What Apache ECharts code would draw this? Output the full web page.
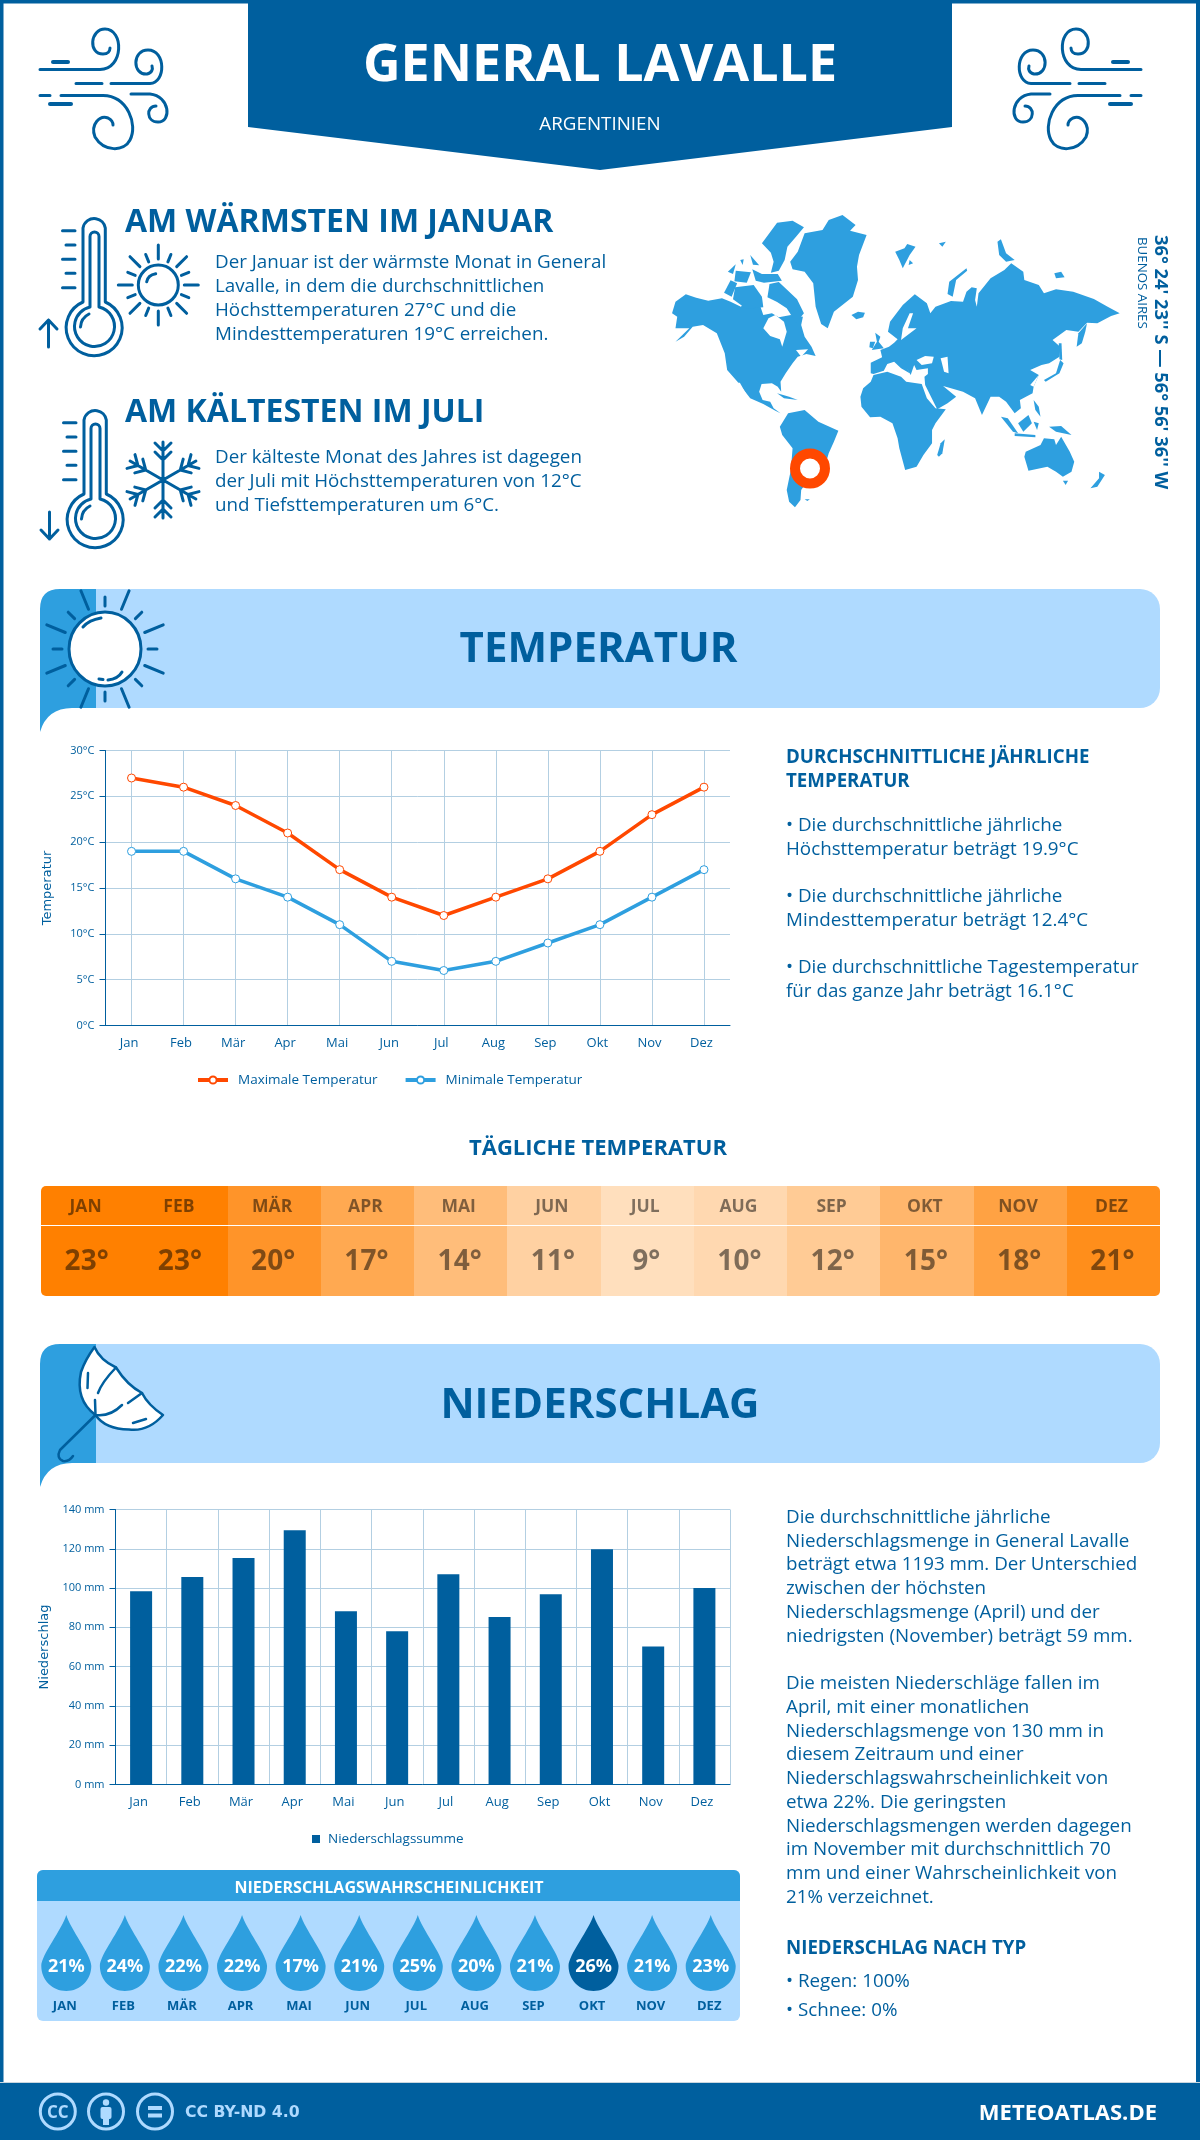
<!DOCTYPE html>
<html><head><meta charset="utf-8">
<style>html,body{margin:0;padding:0;background:#fff}#c{width:1200px;height:2140px}</style>
<script src="https://cdn.jsdelivr.net/npm/echarts@6/dist/echarts.min.js"></script>
</head><body><div id="c"></div>
<script>
const months = ['Jan','Feb','Mär','Apr','Mai','Jun','Jul','Aug','Sep','Okt','Nov','Dez'];
const monthsUpper = ['JAN','FEB','MÄR','APR','MAI','JUN','JUL','AUG','SEP','OKT','NOV','DEZ'];
const maxTemps = [27,26,24,21,17,14,12,14,16,19,23,26];
const minTemps = [19,19,16,14,11,7,6,7,9,11,14,17];
const dailyTemps = [23,23,20,17,14,11,9,10,12,15,18,21];
const precipitation = [98.4,105.6,115.3,129.5,88.2,78,107,85.3,96.8,119.8,70.3,100];
const precipProbability = [21,24,22,22,17,21,25,20,21,26,21,23];

const warmLines = ['Der Januar ist der wärmste Monat in General','Lavalle, in dem die durchschnittlichen','Höchsttemperaturen 27°C und die','Mindesttemperaturen 19°C erreichen.'];
const coldLines = ['Der kälteste Monat des Jahres ist dagegen','der Juli mit Höchsttemperaturen von 12°C','und Tiefsttemperaturen um 6°C.'];
const tempSummary = [['• Die durchschnittliche jährliche',831],['Höchsttemperatur beträgt 19.9°C',855],['• Die durchschnittliche jährliche',902],['Mindesttemperatur beträgt 12.4°C',926],['• Die durchschnittliche Tagestemperatur',973],['für das ganze Jahr beträgt 16.1°C',997]];
const rainSummary = [['Die durchschnittliche jährliche',1523],['Niederschlagsmenge in General Lavalle',1546.5],['beträgt etwa 1193 mm. Der Unterschied',1570],['zwischen der höchsten',1594],['Niederschlagsmenge (April) und der',1618],['niedrigsten (November) beträgt 59 mm.',1641.5],
['Die meisten Niederschläge fallen im',1689],['April, mit einer monatlichen',1713],['Niederschlagsmenge von 130 mm in',1736.5],['diesem Zeitraum und einer',1760],['Niederschlagswahrscheinlichkeit von',1784],['etwa 22%. Die geringsten',1808],['Niederschlagsmengen werden dagegen',1831.5],['im November mit durchschnittlich 70',1855],['mm und einer Wahrscheinlichkeit von',1879],['21% verzeichnet.',1903]];

const BLUE='#005f9e', MID='#2e9fdf', LIGHT='#afdaff', RED='#ff4800', GRID='#b3cfe2', FONT='"Open Sans"';

/* helpers for the decoration */
let pid=0;
function P(d,style,extra){const n='sp'+(pid++);echarts.graphic.registerShape(n,echarts.graphic.extendPath(d,{}));return Object.assign({type:n,style:style,silent:true},extra||{});}
const strokeS=(w,c)=>({stroke:c||BLUE,lineWidth:w||3,fill:'none',lineCap:'round',lineJoin:'round'});
function T(text,x,base,size,weight,fill,align,family){return {type:'text',silent:true,style:{text:text,x:x,y:base-size*0.30+0.5,font:(weight||400)+' '+size+'px '+(family||FONT),fill:fill||BLUE,textAlign:align||'left',verticalAlign:'middle'}};}
function rect(x,y,w,h,fill,r){return {type:'rect',silent:true,shape:{x:x,y:y,width:w,height:h,r:r||0},style:{fill:fill}};}

function wind(){const s=strokeS(3);return [
 P('M40 69.5 L100 69.5 C124 69 124 29 105 29 C90 29 88 54 103 54 C108 54 110 51 110 48',s),
 P('M53 62 L68 62',strokeS(4)),
 P('M76 83.5 L102 83.5 M111 83.5 L150 83.5 C166 83 166 50 148 50 C132 50 132 75 147 74 C152 73 153 69 152 66',s),
 P('M40 95.5 L50 95.5 M61 95.5 L103 95.5 C128 96 138 125 130 140 C124 152 104 152 95 137 C90 124 100 115 108 118 C112 120 113 123 113 125',s),
 P('M50 104 L71 104',strokeS(4)),
 P('M131 94 L150 94 C170 96 172 122 158 122 C146 122 146 106 156 106',s)];}

function thermo(dx,dy,down){const o=[
 P('M83 302 L83 228 A11.3 11.3 0 0 1 105.3 228 L105.3 302 A28 28 0 1 1 83 302 Z',strokeS(3)),
 P('M90 307 L90 236.5 A4.5 4.5 0 0 1 99 236.5 L99 307 A20 20 0 1 1 90 307 Z',strokeS(3)),
 P('M80.5 327 Q81 318 89 314',strokeS(3)),
 P('M62.5 230.7 L75 230.7 M66 245 L75 245 M62.5 259.3 L75 259.3 M66 273.3 L75 273.3 M62.5 287.7 L75 287.7',strokeS(3))];
 o.push(P(down?'M48.5 320 L48.5 347 M40 338 L48.5 347 L57 338':'M48.5 347 L48.5 320 M40 329 L48.5 320 L57 329',strokeS(3)));
 return {type:'group',x:dx,y:dy,children:o};}

function sunSmall(){let d='';const cx=158.3,cy=285;
 for(let i=0;i<16;i++){const a=i*Math.PI/8;const long=i%2===0;const r0=long?26:25,r1=long?40:33;
  d+='M'+(cx+r0*Math.cos(a)).toFixed(1)+' '+(cy+r0*Math.sin(a)).toFixed(1)+' L'+(cx+r1*Math.cos(a)).toFixed(1)+' '+(cy+r1*Math.sin(a)).toFixed(1)+' ';}
 return [{type:'circle',silent:true,shape:{cx:cx,cy:cy,r:20},style:strokeS(3)},P(d,strokeS(3)),P('M146.7 281.7 Q148 275 155.7 273.7',strokeS(3))];}

function snow(){const cx=163,cy=480;let d='';
 for(let i=0;i<6;i++){const a=Math.PI/2+i*Math.PI/3;const c=Math.cos(a),s=Math.sin(a);
  const pt=(r,o)=>(cx+r*c-o*s).toFixed(1)+' '+(cy+r*s+o*c).toFixed(1);
  d+='M'+pt(0,0)+' L'+pt(38,0)+' ';
  d+='M'+pt(28,-8)+' L'+pt(20,0)+' L'+pt(28,8)+' ';
  d+='M'+pt(37,-8)+' L'+pt(29,0)+' L'+pt(37,8)+' ';}
 return [P(d,strokeS(3))];}

function bigSun(){const cx=105,cy=649;let d='';
 for(let i=0;i<16;i++){const a=i*Math.PI/8-Math.PI/2;const long=i%2===1;const r0=43,r1=long?63:52;
  d+='M'+(cx+r0*Math.cos(a)).toFixed(1)+' '+(cy+r0*Math.sin(a)).toFixed(1)+' L'+(cx+r1*Math.cos(a)).toFixed(1)+' '+(cy+r1*Math.sin(a)).toFixed(1)+' ';}
 return [P(d,strokeS(3)),{type:'ellipse',silent:true,shape:{cx:cx,cy:cy,rx:36,ry:37},style:{fill:'#fff',stroke:BLUE,lineWidth:3}},
  P('M83 627 Q89 620 101 618 M99 679 L103 679.5 M108 680 Q118 679 122 672',strokeS(3))];}

function banner(y){return [
 rect(90,y,1070,119,LIGHT,[0,20,20,0]),
 P('M96 '+y+' L60 '+y+' Q40 '+y+' 40 '+(y+20)+' L40 '+(y+143)+' Q47 '+(y+119)+' 72 '+(y+119)+' L96 '+(y+119)+' Z',{fill:MID})];}

function umbrella(){return [
 P('M94.5 1347 Q100 1360 116 1367.5 Q127 1385 142 1393 Q148 1405 163 1415 Q148 1432 129 1429.5 Q105 1429 95.5 1415 Q75 1400 81 1372 Q85 1360 94.5 1347 Z',{fill:'#fff',stroke:BLUE,lineWidth:2.5,lineJoin:'round'}),
 P('M116 1367.5 Q102 1382 98 1393 M95 1400 L95.5 1415 Q110 1417 122 1405 M128 1403 L142 1393 M88 1373 L87.5 1388 M133 1423 L146 1419',strokeS(2.5)),
 P('M95.5 1415 L60 1450 Q56 1458 63 1461 Q69 1462 73 1456',strokeS(2.5))];}

/* world map silhouette, traced on a 1568x960 reference crop */
const LAND=[
[[35,340],[45,305],[75,283],[105,293],[140,302],[180,295],[205,305],[235,320],[255,295],[285,300],[300,345],[325,340],[345,352],[380,345],[415,350],[410,375],[420,410],[440,440],[452,468],[425,462],[400,470],[385,490],[365,520],[350,545],[352,575],[342,560],[325,550],[295,552],[288,575],[298,600],[320,605],[330,625],[350,640],[335,632],[300,612],[262,595],[225,545],[195,510],[188,460],[165,400],[125,375],[95,380],[70,410],[45,425],[85,385],[45,385],[50,350]],
[[310,110],[340,68],[385,62],[418,82],[395,110],[370,140],[362,180],[345,212],[322,218],[330,185],[322,158],[296,130]],
[[318,252],[345,246],[372,272],[398,298],[418,340],[395,368],[368,325],[340,306],[312,292]],
[[218,262],[272,255],[296,290],[300,322],[250,326],[212,298]],
[[186,278],[205,241],[224,250],[208,290]],
[[197,215],[220,193],[212,222]],[[278,242],[268,208],[296,222],[342,222],[354,242],[302,248]],[[262,165],[288,196],[270,194]],[[233,180],[243,178],[240,195]],[[220,212],[264,217],[252,248],[216,244]],
[[378,185],[400,155],[420,100],[472,90],[490,60],[530,45],[568,75],[552,92],[600,105],[578,165],[572,200],[575,240],[560,290],[505,335],[487,385],[468,372],[452,320],[445,250],[420,215],[385,208]],
[[556,345],[575,335],[595,338],[590,352],[570,358]],
[[683,155],[710,145],[718,132],[742,140],[725,165],[705,205],[695,180]],[[725,180],[735,190],[722,195]],[[810,130],[830,125],[820,140]],
[[835,282],[840,245],[890,205],[892,212],[860,240],[850,290]],
[[980,125],[990,118],[1005,160],[1030,180],[1005,185],[985,165]],[[1145,220],[1165,215],[1175,232],[1150,235]],
[[625,398],[640,410],[635,425],[650,445],[615,450],[630,425]],[[610,425],[625,425],[618,445],[608,442]],
[[612,520],[612,488],[645,472],[640,450],[665,440],[680,428],[690,418],[662,395],[668,365],[705,315],[740,283],[775,310],[785,340],[800,320],[845,303],[880,305],[890,275],[905,262],[920,265],[915,300],[920,320],[925,280],[960,235],[1000,210],[1020,190],[1055,215],[1058,240],[1100,255],[1115,280],[1150,268],[1200,275],[1260,297],[1300,320],[1335,340],[1310,348],[1270,370],[1240,368],[1215,395],[1180,390],[1140,420],[1162,440],[1160,470],[1130,490],[1108,495],[1075,510],[1100,525],[1085,560],[1082,580],[1045,600],[1048,625],[1030,640],[1005,605],[985,590],[960,590],[935,645],[915,595],[880,575],[845,565],[822,558],[860,590],[835,610],[805,628],[770,555],[768,530],[778,522],[778,505],[745,510],[738,495],[728,525],[712,495],[725,520],[700,505],[680,485],[660,492],[650,512],[620,522]],
[[582,590],[590,565],[612,545],[620,525],[660,515],[700,530],[715,545],[760,552],[775,595],[800,625],[830,628],[800,670],[790,690],[790,730],[765,765],[745,800],[712,810],[695,745],[690,715],[675,670],[640,650],[610,652],[585,620]],
[[805,765],[815,730],[827,718],[820,760],[810,770]],
[[348,680],[372,640],[420,630],[460,665],[518,692],[505,725],[490,760],[480,795],[440,825],[410,870],[408,900],[392,922],[375,905],[368,870],[380,810],[385,745],[355,705]],
[[340,580],[375,590],[400,600],[360,595]],
[[1115,540],[1150,520],[1162,480],[1172,490],[1160,520],[1120,545]],[[1158,430],[1166,430],[1168,480],[1160,478]],
[[1210,440],[1215,400],[1240,370],[1235,395],[1225,430]],
[[990,650],[1010,655],[1040,700],[1025,695]],[[1040,670],[1070,645],[1080,670],[1055,695]],[[1030,700],[1090,705],[1090,712],[1030,708]],[[1085,665],[1100,670],[1095,690]],[[1130,680],[1165,678],[1195,705],[1150,695]],[[1085,600],[1100,620],[1105,650],[1090,630]],
[[1058,770],[1062,755],[1105,735],[1115,715],[1145,718],[1150,735],[1165,710],[1190,755],[1203,785],[1195,815],[1170,830],[1150,815],[1125,800],[1070,812]],
[[1250,865],[1275,835],[1275,815],[1292,825],[1270,860]],[[1170,842],[1185,842],[1178,855]],[[420,898],[435,898],[428,903]]];
const SEA=[
[[300,385],[315,355],[335,345],[360,365],[368,395],[355,440],[348,418],[320,408]],
[[700,420],[705,385],[725,340],[735,340],[720,385],[745,385]],
[[745,480],[770,468],[795,470],[790,490],[760,495]],[[815,475],[835,470],[838,520],[825,515]],
[[225,548],[232,548],[252,585]],[[395,450],[430,448],[410,470]],[[1075,555],[1100,525],[1085,560]]];

function worldMap(){const ch=[];
 LAND.forEach(p=>ch.push({type:'polygon',silent:true,shape:{points:p},style:{fill:MID}}));
 SEA.forEach(p=>ch.push({type:'polygon',silent:true,shape:{points:p},style:{fill:'#fff'}}));
 return {type:'group',x:660,y:200,scaleX:1/2.904,scaleY:1/3,children:ch};}

function vText(text,x,y,size,weight,family){return {type:'text',silent:true,x:x,y:y,rotation:-Math.PI/2,style:{text:text,x:0,y:0,font:weight+' '+size+'px '+(family||FONT),fill:BLUE,textAlign:'left',verticalAlign:'middle'}};}

const BODY=18.8, HEAD=18.7;
const els=[];
/* frame */
els.push(rect(0,0,1200,3.5,BLUE),rect(0,0,3.5,2140,BLUE),rect(1196,0,4,2140,BLUE));
/* header */
els.push({type:'polygon',silent:true,shape:{points:[[248,0],[952,0],[952,127],[600,170],[248,127]]},style:{fill:BLUE}});
els.push(T('GENERAL LAVALLE',600,81,52,700,'#fff','center'));
els.push(T('ARGENTINIEN',600,130,BODY,400,'#fff','center'));
els.push({type:'group',children:wind()},{type:'group',x:1181,scaleX:-1,children:wind()});
/* warm / cold */
els.push(thermo(0,0,false),thermo(1,192,true),...sunSmall(),...snow());
els.push(T('AM WÄRMSTEN IM JANUAR',125,232,32,700));
warmLines.forEach((l,i)=>els.push(T(l,215,268+i*24,BODY)));
els.push(T('AM KÄLTESTEN IM JULI',125,422,32,700));
coldLines.forEach((l,i)=>els.push(T(l,215,462.5+i*24,BODY)));
/* map */
els.push(worldMap(),{type:'circle',silent:true,shape:{cx:810,cy:468.5,r:15},style:{fill:'#fff',stroke:RED,lineWidth:10}});
els.push(vText("36° 24' 23'' S — 56° 56' 36'' W",1160.5,235,18.3,700),vText('BUENOS AIRES',1142,237,13.3,400));
/* temperature */
els.push(...banner(589),...bigSun(),T('TEMPERATUR',598.5,662.5,42,700,BLUE,'center'));
els.push(T('DURCHSCHNITTLICHE JÄHRLICHE',786,763,HEAD,700),T('TEMPERATUR',786,787,HEAD,700));
tempSummary.forEach(l=>els.push(T(l[0],786,l[1],BODY)));
els.push(T('TÄGLICHE TEMPERATUR',598,1155,22,700,BLUE,'center'));
/* rain */
els.push(...banner(1344),...umbrella(),T('NIEDERSCHLAG',600,1418,42,700,BLUE,'center'));
rainSummary.forEach(l=>els.push(T(l[0],786,l[1],BODY)));
els.push(T('NIEDERSCHLAG NACH TYP',786,1953.5,HEAD,700),T('• Regen: 100%',786,1987,BODY),T('• Schnee: 0%',786,2015.5,BODY));
/* probability panel */
els.push(rect(37,1870,703,151,LIGHT,6),rect(37,1870,703,31,MID,[6,6,0,0]));
els.push(T('NIEDERSCHLAGSWAHRSCHEINLICHKEIT',389,1892.5,16,700,'#fff','center'));
/* footer */
els.push(rect(0,2082,1200,1,'#c9d6df'),rect(0,2083,1200,57,BLUE));
[57.8,106,155].forEach(cx=>els.push({type:'circle',silent:true,shape:{cx:cx,cy:2111.5,r:17.5},style:{fill:'none',stroke:LIGHT,lineWidth:3}}));
els.push(T('CC',57.8,2117.5,17,700,LIGHT,'center'));
els.push({type:'circle',silent:true,shape:{cx:106,cy:2102.5,r:3.2},style:{fill:LIGHT}},rect(100.5,2107,11,12,LIGHT,2),rect(103,2112,6,13,LIGHT));
els.push(rect(148,2106,14,4,LIGHT),rect(148,2113.5,14,4,LIGHT));
els.push(T('CC BY-ND 4.0',185,2117,15.7,700,LIGHT,'left','"DejaVu Sans"'));
els.push(T('METEOATLAS.DE',1157,2120,22,700,'#fff','right'));

const axisText={color:BLUE,fontFamily:FONT};
const baseY=(name,gap,fmt,max,interval)=>({type:'value',min:0,max:max,interval:interval,name:name,nameLocation:'middle',nameRotate:90,nameGap:gap,
 nameTextStyle:{color:BLUE,fontFamily:'"DejaVu Sans"',fontSize:13},
 axisLine:{show:true,lineStyle:{color:BLUE,width:1}},axisTick:{show:true,length:6,lineStyle:{color:BLUE,width:1}},
 axisLabel:Object.assign({fontSize:11,margin:11,formatter:fmt},axisText),splitLine:{show:true,lineStyle:{color:GRID,width:1}}});
const baseX=(gi,alignGrid)=>({type:'category',gridIndex:gi,data:months,boundaryGap:true,
 axisLine:{show:true,onZero:false,lineStyle:{color:BLUE,width:1}},axisTick:{show:false},
 axisLabel:Object.assign({fontSize:13,margin:11,padding:[0,5,0,0],interval:0},axisText),
 splitLine:{show:true,alignWithLabel:alignGrid,interval:0,lineStyle:{color:GRID,width:1}}});

const dropPath='path://M25 0 C29 14 50 40 50 51 C50 65 39 76 25 76 C11 76 0 65 0 51 C0 40 21 14 25 0 Z';

const option={
 animation:false,backgroundColor:'#fff',
 graphic:{elements:els},
 grid:[
  {left:105.5,top:750.5,width:624.5,height:275},
  {left:115.5,top:1509.5,width:614.5,height:275},
  {left:41,top:1186,width:1119,height:110},
  {left:37,top:1915,width:703,height:76}],
 xAxis:[baseX(0,true),baseX(1,false),
  {type:'category',gridIndex:2,data:months,show:false},
  {type:'category',gridIndex:3,data:monthsUpper,axisLine:{show:false},axisTick:{show:false},splitLine:{show:false},
   axisLabel:{color:BLUE,fontFamily:FONT,fontWeight:700,fontSize:13,margin:9,interval:0,padding:[0,3,0,0]}}],
 yAxis:[
  baseY('Temperatur',51.5,'{value}°C',30,5),
  Object.assign(baseY('Niederschlag',61,'{value} mm',140,20),{gridIndex:1}),
  {type:'value',gridIndex:2,min:0,max:1,show:false},
  {type:'value',gridIndex:3,min:0,max:1,show:false}],
 legend:[
  {data:['Maximale Temperatur','Minimale Temperatur'],left:196,top:1073,itemWidth:30,itemHeight:9,itemGap:26,padding:0,
   lineStyle:{width:4},
   textStyle:{color:BLUE,fontFamily:FONT,fontSize:13.5,padding:[0,0,0,5]}},
  {data:['Niederschlagssumme'],left:312,top:1832,itemWidth:8,itemHeight:8,padding:0,icon:'rect',
   textStyle:{color:BLUE,fontFamily:FONT,fontSize:13.5,padding:[0,0,0,3]}}],
 visualMap:{show:false,seriesIndex:3,dimension:1,min:9,max:23,inRange:{color:['#ffdfbd','#ff8000']}},
 series:[
  {name:'Maximale Temperatur',type:'line',xAxisIndex:0,yAxisIndex:0,data:maxTemps,symbol:'circle',symbolSize:8,showAllSymbol:true,
   lineStyle:{color:RED,width:3.5},itemStyle:{color:'#fff',borderColor:RED,borderWidth:1}},
  {name:'Minimale Temperatur',type:'line',xAxisIndex:0,yAxisIndex:0,data:minTemps,symbol:'circle',symbolSize:8,showAllSymbol:true,
   lineStyle:{color:MID,width:3.5},itemStyle:{color:'#fff',borderColor:MID,borderWidth:1}},
  {name:'Niederschlagssumme',type:'bar',xAxisIndex:1,yAxisIndex:1,data:precipitation,barWidth:22,itemStyle:{color:BLUE}},
  {name:'Tägliche Temperatur',type:'custom',xAxisIndex:2,yAxisIndex:2,
   data:dailyTemps.map((v,i)=>[months[i],v,0]),encode:{x:0,y:2},
   renderItem:function(params,api){
     const i=api.value(0),v=api.value(1),cs=params.coordSys;
     const cx=api.coord([i,0])[0],bw=api.size([1,0])[0];
     const x0=Math.round(cx-bw/2),x1=Math.round(cx+bw/2);
     const r=i===0?[5,0,0,5]:(i===11?[0,5,5,0]:0);
     return {type:'group',children:[
      {type:'rect',shape:{x:x0,y:cs.y,width:x1-x0,height:cs.height,r:r},style:{fill:api.visual('color')}},
      {type:'rect',shape:{x:x0,y:cs.y+39,width:x1-x0,height:1},style:{fill:'#fff'}},
      {type:'text',style:{text:monthsUpper[i],x:cx-2,y:cs.y+21,font:'700 17.5px '+FONT,fill:'rgba(0,0,0,0.5)',textAlign:'center',verticalAlign:'middle'}},
      {type:'text',style:{text:v+'°',x:cx-1,y:cs.y+76,font:'700 28px '+FONT,fill:'rgba(0,0,0,0.5)',textAlign:'center',verticalAlign:'middle'}}]};
   }},
  {name:'Niederschlagswahrscheinlichkeit',type:'scatter',xAxisIndex:3,yAxisIndex:3,
   data:precipProbability.map((v,i)=>[monthsUpper[i],0.5,v]),encode:{x:0,y:1},
   symbol:dropPath,symbolSize:[50,76],
   itemStyle:{opacity:1,color:p=>p.value[2]===Math.max(...precipProbability)?BLUE:MID},
   label:{show:true,position:'inside',offset:[0,14],color:'#fff',fontFamily:FONT,fontWeight:700,fontSize:18,formatter:p=>p.value[2]+'%'}}
 ]};
const chart=echarts.init(document.getElementById('c'),null,{renderer:'canvas',width:1200,height:2140});
chart.setOption(option);
</script></body></html>
